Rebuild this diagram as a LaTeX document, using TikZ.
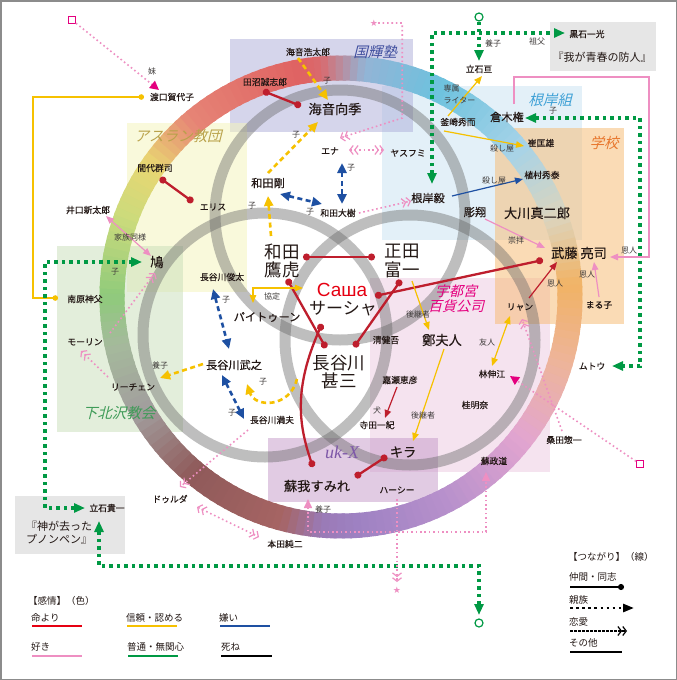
\documentclass[tikz,border=0pt]{standalone}
\usepackage{fontspec}
\setmainfont{Noto Sans CJK JP}
\newfontfamily\nmfont[FakeBold=0.35]{Noto Sans CJK JP}
\newfontfamily\ttlfont[FakeSlant=0.25]{Noto Sans CJK JP}
\newfontfamily\rufont{Liberation Sans}
\newfontfamily\ukfont{Liberation Serif}
\newfontfamily\symfont{DejaVu Sans}
\usetikzlibrary{arrows.meta,calc}

\definecolor{cred}{HTML}{BE1E2D}
\definecolor{lred}{HTML}{E60012}
\definecolor{cpink}{HTML}{EE8FC2}
\definecolor{cmag}{HTML}{E4007F}
\definecolor{cyel}{HTML}{F6C100}
\definecolor{cgreen}{HTML}{009944}
\definecolor{cblue}{HTML}{1E50A2}
\definecolor{ctxt}{HTML}{231815}
\definecolor{clbl}{HTML}{3E3A39}
\definecolor{bxK}{HTML}{ADADD9}
\definecolor{bxA}{HTML}{F5F5B9}
\definecolor{bxS}{HTML}{C9DFB9}
\definecolor{bxN}{HTML}{C9E3F3}
\definecolor{bxG}{HTML}{F7B96D}
\definecolor{bxU}{HTML}{EDC9E1}
\definecolor{bxX}{HTML}{C599C9}
\definecolor{bxgray}{HTML}{E6E6E6}
\definecolor{tK}{HTML}{3F4E9E}
\definecolor{tA}{HTML}{B9A24A}
\definecolor{tS}{HTML}{3E9B57}
\definecolor{tN}{HTML}{3FA1D6}
\definecolor{tG}{HTML}{E8772E}
\definecolor{tX}{HTML}{7E58A8}
\definecolor{gA}{HTML}{8FCA7B}
\definecolor{gB}{HTML}{CBDB7C}
\definecolor{gC}{HTML}{E9D672}
\definecolor{gD}{HTML}{E68476}
\definecolor{gE}{HTML}{DF6262}
\definecolor{gF}{HTML}{D96A6E}
\definecolor{gG}{HTML}{93B4D6}
\definecolor{gH}{HTML}{6DC2DE}
\definecolor{gI}{HTML}{A6D3E8}
\definecolor{gJ}{HTML}{DDD4BC}
\definecolor{gK}{HTML}{F1B365}
\definecolor{gL}{HTML}{EDB49E}
\definecolor{gM}{HTML}{E2A5D0}
\definecolor{gN}{HTML}{B891CC}
\definecolor{gO}{HTML}{9F82C3}
\definecolor{gP}{HTML}{9A7AB6}
\definecolor{gQ}{HTML}{A66463}
\definecolor{gR}{HTML}{8F5A5A}
\definecolor{gS}{HTML}{A29D9D}
\definecolor{gT}{HTML}{A5BA9C}

\begin{document}
\begin{tikzpicture}[x=1pt,y=-1pt,
  nm/.style={font=\nmfont\fontsize{8.8}{9}\selectfont, text=ctxt, inner sep=0.8pt},
  nmm/.style={font=\nmfont\fontsize{11.2}{12}\selectfont, text=ctxt, inner sep=1pt},
  nml/.style={font=\nmfont\fontsize{13.2}{14}\selectfont, text=ctxt, inner sep=1pt},
  nmx/.style={font=\fontsize{17.5}{18.5}\selectfont, text=ctxt, inner sep=1pt, align=center},
  lb/.style={font=\fontsize{8}{8.5}\selectfont, text=clbl, inner sep=0.5pt},
  ttl/.style={font=\ttlfont\fontsize{14.5}{15.5}\selectfont, inner sep=0pt, align=center},
  lg/.style={font=\fontsize{9.5}{10}\selectfont, text=ctxt, anchor=west, inner sep=0pt},
  comrade/.style={draw=cred, line width=2.3pt, {Circle[length=7pt]}-{Circle[length=7pt]}},
  ycom/.style={draw=cyel, line width=1.5pt, {Circle[length=5.5pt]}-{Circle[length=5.5pt]}},
  kin/.style={line width=2.6pt, dash pattern=on 5pt off 3.5pt},
  ktip/.style={-{Triangle[length=10pt,width=9pt]}},
  ktip2/.style={{Triangle[length=10pt,width=9pt]}-{Triangle[length=10pt,width=9pt]}},
  gdot/.style={draw=cgreen, line width=3.2pt, dash pattern=on 3.2pt off 4.3pt},
  gtip/.style={-{Triangle[length=11pt,width=9pt]}},
  gtip2/.style={{Triangle[length=11pt,width=9pt]}-{Triangle[length=11pt,width=9pt]}},
  love/.style={draw=cpink, line width=1.6pt, dash pattern=on 1.6pt off 2.8pt},
  ltip/.style={-{Straight Barb[length=3.5pt,width=9pt,line width=1.2pt]Straight Barb[length=3.5pt,width=9pt,line width=1.2pt]}},
  ltip2/.style={{Straight Barb[length=3.5pt,width=9pt,line width=1.2pt]Straight Barb[length=3.5pt,width=9pt,line width=1.2pt]}-{Straight Barb[length=3.5pt,width=9pt,line width=1.2pt]Straight Barb[length=3.5pt,width=9pt,line width=1.2pt]}},
  oth/.style={line width=1.2pt},
  otip/.style={-{Triangle[length=8pt,width=6.5pt]}},
  otip2/.style={{Triangle[length=8pt,width=6.5pt]}-{Triangle[length=8pt,width=6.5pt]}},
  gring/.style={draw=black!60, line width=11pt, draw opacity=0.42},
  bx/.style={fill opacity=0.5},
]
\useasboundingbox (0,0) rectangle (677,680);
\fill[white] (0,0) rectangle (677,680);

% ---- group boxes
\fill[bx, fill=bxU] (370,278) rectangle (550,472);
\fill[bx, fill=bxX] (268,438) rectangle (438,502);
\fill[bx, fill=bxN] (382,86) rectangle (582,240);
\fill[bx, fill=bxG] (495,128) rectangle (624,324);
\fill[bx, fill=bxK] (230,39) rectangle (413,132);
\fill[bx, fill=bxA] (127,123) rectangle (247,292);
\fill[bx, fill=bxS] (57,246) rectangle (183,432);
\fill[bxgray] (550,22) rectangle (656,71);
\fill[bxgray] (15,496) rectangle (125,554);

% ---- colour ring
\coordinate (RC) at (341,297);
\foreach \sa/\ea/\ca/\cb in {180/160/gA/gB, 160/145/gB/gC, 145/130/gC/gD, 130/100/gD/gE,
  100/95/gE/gF, 95/84/gF/gG, 84/65/gG/gH, 65/40/gH/gI, 40/20/gI/gJ, 20/3/gJ/gK,
  3/-18/gK/gL, -18/-38/gL/gM, -38/-62/gM/gN, -62/-85/gN/gO, -85/-95/gO/gP,
  -95/-105/gP/gQ, -105/-130/gQ/gR, -130/-150/gR/gS, -150/-168/gS/gT, -168/-180/gT/gA}{
  \pgfmathtruncatemacro\nn{max(1,round(abs((\sa)-(\ea))/2))}
  \foreach \i in {1,...,\nn}{
    \pgfmathsetmacro\pa{(\sa)+((\ea)-(\sa))*(\i-1)/\nn}
    \pgfmathsetmacro\pb{(\sa)+((\ea)-(\sa))*(\i)/\nn-0.8}
    \pgfmathsetmacro\pc{100*(\i-0.5)/\nn}
    \draw[line width=25pt, draw=\cb!\pc!\ca] (RC) ++(\pa:229pt) arc[start angle=\pa, end angle=\pb, radius=229pt];
  }
}

% ---- gray rings
\draw[gring] (340,215) circle[radius=125pt];
\draw[gring] (265,335) circle[radius=122pt];
\draw[gring] (410,340) circle[radius=125pt];

% ---- titles
\node[ttl, text=tK] (tK) at (375,52) {国輝塾};
\node[ttl, text=tA] (tA) at (178,136) {アスラン教団};
\node[ttl, text=tS] (tS) at (119,413) {下北沢教会};
\node[ttl, text=tN] (tN) at (550,100) {根岸組};
\node[ttl, text=tG] (tG) at (604,143) {学校};
\node[ttl, text=cmag, font=\ttlfont\fontsize{14}{15}\selectfont] (tU) at (456,299) {宇都宮\\百貨公司};
\node[font=\ukfont\itshape\fontsize{18}{18}\selectfont, text=tX, inner sep=0pt] (tX) at (342,452) {uk-X};

% ---- markers
\node[draw=cmag, line width=1pt, fill=white, minimum size=7pt, inner sep=0pt] (sqA) at (72,20) {};
\node[draw=cmag, line width=1pt, fill=white, minimum size=7pt, inner sep=0pt] (sqB) at (640,464) {};
\node[circle, draw=cgreen, line width=1.2pt, fill=white, minimum size=8pt, inner sep=0pt] (circA) at (479,17) {};
\node[circle, draw=cgreen, line width=1.2pt, fill=white, minimum size=8pt, inner sep=0pt] (circB) at (479,623) {};
\node[font=\symfont\fontsize{9}{9}\selectfont, text=cpink, inner sep=0pt] (starA) at (374,23) {★};
\node[font=\symfont\fontsize{9}{9}\selectfont, text=cpink, inner sep=0pt] (starB) at (397,590) {★};

% ---- names (small)
\node[nm] (watari) at (172,97) {渡口賀代子};
\node[nm] (madai) at (155,168) {間代群司};
\node[nm] (eris) at (213,207) {エリス};
\node[nm] (iguchi) at (88,210) {井口新太郎};
\node[nm] (nanbara) at (85,299) {南原神父};
\node[nm] (morin) at (85,342) {モーリン};
\node[nm] (richen) at (133,387) {リーチェン};
\node[nm] (shunta) at (222,277) {長谷川俊太};
\node[nm] (mitsuo) at (272,420) {長谷川満夫};
\node[nm] (kotaro) at (308,52) {海音浩太郎};
\node[nm] (tanuma) at (265,82) {田沼誠志郎};
\node[nm] (ena) at (330,151) {エナ};
\node[nm] (yasu) at (408,153) {ヤスフミ};
\node[nm] (wadaD) at (338,213) {和田大樹};
\node[nm] (tateW) at (479,69) {立石亘};
\node[nm] (kama) at (458,122) {釜崎秀而};
\node[nm] (sai) at (541,143) {崔匡雄};
\node[nm] (ue) at (542,175) {植村秀泰};
\node[nm] (ryan) at (520,307) {リャン};
\node[nm] (maruko) at (599,305) {まる子};
\node[nm] (hayashi) at (492,374) {林伸江};
\node[nm] (katsura) at (475,405) {桂明奈};
\node[nm] (mutoK) at (592,366) {ムトウ};
\node[nm] (kuwata) at (564,440) {桑田惣一};
\node[nm] (seido) at (494,461) {蘇政道};
\node[nm] (sei) at (386,340) {清健吾};
\node[nm] (kase) at (400,380) {嘉瀬恵彦};
\node[nm] (terada) at (377,425) {寺田一紀};
\node[nm] (hershey) at (397,490) {ハーシー};
\node[nm] (honda) at (285,544) {本田純二};
\node[nm] (dolda) at (170,499) {ドゥルダ};
\node[nm] (tateK) at (107,508) {立石貴一};
\node[nm] (kuroishi) at (587,34) {黒石一光};
% medium
\node[nmm] (wadaG) at (268,183) {和田剛};
\node[nmm] (negishi) at (428,198) {根岸毅};
\node[nmm] (horisho) at (475,212) {彫翔};
\node[nmm] (kuraki) at (507,117) {倉木権};
\node[nmm] (takeyuki) at (234,365) {長谷川武之};
\node[nmm] (pait) at (267,317) {パイトゥーン};
\node[nml] (hato) at (157,262) {鳩};
% large
\node[nml] (kaion) at (335,109) {海音向季};
\node[nml] (okawa) at (537,213) {大川真二郎};
\node[nml] (muto) at (579,253) {武藤 亮司};
\node[nml] (tei) at (442,340) {鄭夫人};
\node[nml] (kira) at (403,452) {キラ};
\node[nml] (sumire) at (317,486) {蘇我すみれ};
% extra large
\node[nmx] (wadaT) at (282,261) {和田\\鷹虎};
\node[nmx] (shoda) at (402,261) {正田\\富一};
\node[nmx] (hase) at (339,372) {長谷川\\甚三};
\node[font=\rufont\fontsize{19}{20}\selectfont, text=lred, inner sep=1pt] (saR) at (342,290) {Саша};
\node[nmx, font=\fontsize{17}{18}\selectfont] (sasha) at (343,309) {サーシャ};

% book boxes
\node[font=\fontsize{11}{12}\selectfont, text=ctxt, inner sep=0pt] (bookA) at (602,57) {『我が青春の防人』};
\node[font=\fontsize{11}{13.5}\selectfont, text=ctxt, align=left, inner sep=0pt] (bookB) at (59,533) {『神が去った\\プノンペン』};

% ---- comrade (red)
\draw[comrade] ($(madai)+(5,10)$) -- ($(eris)+(-20,-5)$);
\draw[comrade] ($(tanuma)+(-2,9)$) -- ($(kaion)+(-34,-3)$);
\draw[comrade] ($(wadaT)+(21,-4)$) -- ($(shoda)+(-27,-4)$);
\draw[comrade] ($(wadaT)+(5,18)$) -- ($(hase)+(-13,-24)$);
\draw[comrade] ($(shoda)+(-1,19)$) -- ($(hase)+(15,-25)$);
\draw[comrade] ($(sasha)+(32,-13)$) -- ($(muto)+(-36,7)$);
\draw[comrade] ($(sasha)+(-21,15)$) .. controls ($(sasha)+(-50,80)$) and ($(sumire)+(-18,-60)$) .. ($(sumire)+(-4,-19)$);
\draw[comrade] ($(sumire)+(38,-9)$) -- ($(kira)+(-16,4)$);
\draw[ycom] ($(watari)+(-28,0)$) -- ++(-111,0) |- ($(nanbara)+(-27,-1)$);

% ---- kin (dashed)
\draw[kin, draw=cyel, ktip] ($(wadaG)+(0,-10)$) -- ($(kaion)+(-17,13)$);
\draw[kin, draw=cyel, ktip] ($(kotaro)+(-10,6)$) -- ($(kaion)+(-7,-9)$);
\draw[kin, draw=cyel, ktip] ($(wadaT)+(-11,-25)$) -- ($(wadaG)+(0,13)$);
\draw[kin, draw=cyel, ktip] ($(hase)+(-42,7)$) .. controls ($(hase)+(-49,36)$) and ($(takeyuki)+(21,43)$) .. ($(takeyuki)+(13,19)$);
\draw[kin, draw=cyel, ktip] ($(takeyuki)+(-31,-1)$) -- ($(richen)+(27,-9)$);
\draw[kin, draw=cblue, ktip2] ($(ena)+(12,12)$) -- ($(wadaD)+(4,-9)$);
\draw[kin, draw=cblue, ktip2] ($(wadaG)+(12,11)$) -- ($(wadaD)+(-16,-9)$);
\draw[kin, draw=cblue, ktip2] ($(shunta)+(-9,12)$) -- ($(takeyuki)+(-5,-16)$);
\draw[kin, draw=cblue, ktip2] ($(takeyuki)+(-12,10)$) -- ($(mitsuo)+(-28,-1)$);

% ---- green dotted
\draw[gdot, gtip2] ($(tateK)+(-22,0)$) -| ($(hato)+(-112,0)$) -- ($(hato)+(-15,0)$);
\draw[gdot, gtip2] ($(tateK)+(-8,13)$) |- ($(circB)+(0,-57)$) -- ($(circB)+(0,-8)$);
\draw[gdot, gtip] (circA.south) -- ($(tateW)+(0,-8)$);
\draw[gdot, gtip2] ($(negishi)+(4,-14)$) |- ($(kuroishi)+(-22,-1)$);
\draw[gdot, gtip2] ($(kuraki)+(18,1)$) -| ($(mutoK)+(48,0)$) -- ($(mutoK)+(20,0)$);

% ---- love (pink dotted)
\draw[love, ltip] (starA.east) -- ++(24,0) -- ++(0,95) -- ($(ena)+(10,-13)$);
\draw[love, ltip2] ($(ena)+(19,-1)$) -- ($(yasu)+(-24,-3)$);
\draw[love, ltip] ($(wadaD)+(21,0)$) -- ($(negishi)+(-17,3)$);
\draw[love, ltip] ($(richen)+(-25,-10)$) -- ($(morin)+(-4,9)$);
\draw[love, ltip] ($(morin)+(25,-9)$) -- ($(hato)+(-2,11)$);
\draw[love, ltip] ($(mitsuo)+(-24,10)$) -- ($(dolda)+(10,-12)$);
\draw[love, ltip2] ($(dolda)+(27,8)$) -- ($(honda)+(-26,-7)$);
\draw[love, ltip] ($(kuwata)+(-2,-9)$) -- ($(ryan)+(2,12)$);
\draw[love, ltip] ($(hershey)+(0,9)$) -- ($(starB)+(0,-8)$);
\draw[love, -{Triangle[length=9pt,width=9pt,color=cmag]}] (sqA) -- ($(watari)+(-13,-7)$);
\draw[love, -{Triangle[length=9pt,width=9pt,color=cmag]}] (sqB) -- ($(hayashi)+(18,2)$);
\draw[love, {Triangle[length=9pt,width=8pt]}-{Triangle[length=9pt,width=8pt]}] ($(sumire)+(-9,13)$) -- ++(0,33) -| ($(seido)+(-8,11)$);

% ---- other (solid)
\draw[oth, draw=cpink, otip2] ($(iguchi)+(18,6)$) -- ($(hato)+(-6,-6)$);
\draw[oth, draw=cpink, otip] ($(kuraki)+(7,-13)$) -- ++(0,-27) -- ++(135,0) |- ($(muto)+(31,4)$);
\draw[oth, draw=cyel, otip] ($(kama)+(-10,-6)$) -- ($(tateW)+(3,7)$);
\draw[oth, draw=cyel, otip] ($(kama)+(-14,9)$) -- ($(sai)+(-17,3)$);
\draw[oth, draw=cblue, otip] ($(negishi)+(24,-2)$) -- ($(ue)+(-19,4)$);
\draw[oth, draw=cpink, otip] ($(horisho)+(10,7)$) -- ($(muto)+(-34,-5)$);
\draw[oth, draw=cred, otip] ($(ryan)+(9,-9)$) -- ($(muto)+(-22,9)$);
\draw[oth, draw=cpink, otip] ($(maruko)+(0,-8)$) -- ($(muto)+(15,9)$);
\draw[oth, draw=cyel, otip2] ($(ryan)+(-10,9)$) -- ($(hayashi)+(0,-8)$);
\draw[oth, draw=cyel, otip] ($(shoda)+(10,20)$) -- ($(tei)+(-13,-10)$);
\draw[oth, draw=cyel, otip] ($(tei)+(2,9)$) -- ($(kira)+(10,-11)$);
\draw[oth, draw=cred, otip] ($(kase)+(-3,7)$) -- ($(terada)+(8,-7)$);
\draw[oth, draw=cyel, otip2] ($(pait)+(-14,-14)$) |- ($(saR)+(-39,-2)$);

% ---- edge labels
\node[lb] (l01) at (152,71) {妹};
\node[lb] (l02) at (130,237) {家族同様};
\node[lb] (l03) at (115,272) {子};
\node[lb] (l04) at (296,135) {子};
\node[lb] (l05) at (327,81) {子};
\node[lb] (l06) at (351,168) {子};
\node[lb] (l07) at (310,212) {子};
\node[lb] (l08) at (252,206) {子};
\node[lb] (l09) at (493,43) {養子};
\node[lb] (l10) at (537,41) {祖父};
\node[lb] (l11) at (553,111) {子};
\node[lb, align=left, anchor=west, font=\fontsize{8}{12}\selectfont] (l12) at (443,94) {専属\\ライター};
\node[lb] (l13) at (502,148) {殺し屋};
\node[lb] (l14) at (494,180) {殺し屋};
\node[lb] (l15) at (516,240) {崇拝};
\node[lb] (l16) at (629,251) {恩人};
\node[lb] (l17) at (555,284) {恩人};
\node[lb] (l18) at (587,275) {恩人};
\node[lb] (l19) at (487,342) {友人};
\node[lb] (l20) at (418,314) {後継者};
\node[lb] (l21) at (423,415) {後継者};
\node[lb] (l22) at (377,410) {犬};
\node[lb] (l23) at (272,296) {協定};
\node[lb] (l24) at (226,300) {子};
\node[lb] (l25) at (232,413) {子};
\node[lb] (l26) at (263,382) {子};
\node[lb] (l27) at (160,365) {養子};
\node[lb] (l28) at (323,509) {養子};

% ---- legend
\node[lg] (lgA) at (28,601) {【感情】（色）};
\node[lg] (lgR) at (31,618) {命より};
\draw[lred, line width=2.6pt] (32,626) -- (82,626);
\node[lg] (lgP) at (31,647) {好き};
\draw[cpink, line width=2.6pt] (32,656) -- (82,656);
\node[lg] (lgY) at (126,618) {信頼・認める};
\draw[cyel, line width=2.6pt] (127,626) -- (177,626);
\node[lg] (lgG) at (127,647) {普通・無関心};
\draw[cgreen, line width=2.6pt] (128,656) -- (178,656);
\node[lg] (lgB) at (219,618) {嫌い};
\draw[cblue, line width=2.6pt] (220,626) -- (270,626);
\node[lg] (lgK) at (221,647) {死ね};
\draw[black, line width=2.6pt] (221,656) -- (272,656);

\node[lg] (lgC) at (568,557) {【つながり】（線）};
\node[lg] (lg1) at (569,577) {仲間・同志};
\draw[line width=2pt, -{Circle[length=6pt]}] (570,587) -- (624,587);
\node[lg] (lg2) at (569,600) {親族};
\draw[line width=2.6pt, dash pattern=on 2.6pt off 3.5pt, -{Triangle[length=11pt,width=8pt]}] (570,608) -- (634,608);
\node[lg] (lg3) at (569,622) {恋愛};
\draw[line width=1.3pt, dash pattern=on 2.5pt off 1.5pt, -{Straight Barb[length=3.5pt,width=9pt,line width=1.2pt]Straight Barb[length=3.5pt,width=9pt,line width=1.2pt]}] (570,631) -- (627,631);
\node[lg] (lg4) at (569,643) {その他};
\draw[line width=1.2pt] (570,652) -- (622,652);

% frame
\draw[draw=black!45, line width=1.5pt] (0.75,0.75) rectangle (676.25,679.25);
\end{tikzpicture}
\end{document}
